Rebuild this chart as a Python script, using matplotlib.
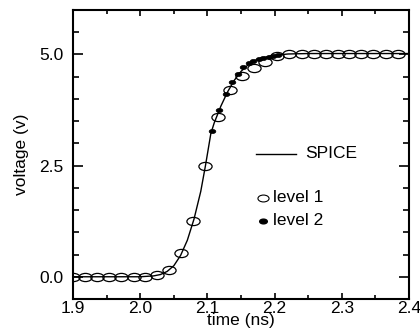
import matplotlib
matplotlib.use("Agg")
import matplotlib.pyplot as plt
import numpy as np
from matplotlib.path import Path
from matplotlib.transforms import Affine2D
from matplotlib.ticker import MultipleLocator

plt.rcParams['font.family'] = ['Liberation Sans', 'DejaVu Sans']

# SPICE waveform
spice_t = [1.90, 2.00, 2.02, 2.03, 2.04, 2.05, 2.06, 2.07, 2.08, 2.09, 2.097,
           2.105, 2.11, 2.115, 2.12, 2.13, 2.14, 2.15, 2.16, 2.17, 2.18,
           2.19, 2.20, 2.22, 2.25, 2.40]
spice_v = [0.0, 0.0, 0.02, 0.05, 0.12, 0.25, 0.48, 0.82, 1.30, 1.92, 2.50,
           3.22, 3.46, 3.65, 3.84, 4.16, 4.42, 4.62, 4.76, 4.86, 4.92,
           4.95, 4.98, 5.01, 5.02, 5.02]

# level 1 model (open circles)
lvl1_t = [1.900, 1.918, 1.936, 1.954, 1.972, 1.990, 2.007, 2.025, 2.043,
          2.061, 2.079, 2.097, 2.115, 2.133, 2.151, 2.169, 2.186, 2.204,
          2.222, 2.240, 2.258, 2.276, 2.294, 2.311, 2.329, 2.347, 2.365, 2.383]
lvl1_v = [0.0, 0.0, 0.0, 0.0, 0.0, 0.0, 0.0, 0.03, 0.15,
          0.53, 1.26, 2.50, 3.60, 4.20, 4.51, 4.70, 4.83, 4.96,
          5.02, 5.02, 5.02, 5.02, 5.02, 5.02, 5.02, 5.02, 5.02, 5.02]

# level 2 model (filled dots)
lvl2_t = [2.106, 2.117, 2.128, 2.136, 2.145, 2.153, 2.162, 2.168, 2.176,
          2.183, 2.191, 2.198, 2.205]
lvl2_v = [3.27, 3.74, 4.12, 4.37, 4.57, 4.72, 4.81, 4.86, 4.90,
          4.93, 4.95, 4.96, 4.98]

ellipse = Path.unit_circle().transformed(Affine2D().scale(1.0, 0.62))

fig = plt.figure(figsize=(4.2, 3.32), dpi=100)
ax = fig.add_axes([0.174, 0.0994, 0.8, 0.8706])

ax.plot(spice_t, spice_v, color='black', lw=1.0)
ax.plot(lvl1_t, lvl1_v, ls='none', marker=ellipse, ms=9.5, mfc='none',
        mec='black', mew=0.9)
ax.plot(lvl2_t, lvl2_v, ls='none', marker=ellipse, ms=4.8, mfc='black',
        mec='black', mew=0.5)

ax.set_xlim(1.9, 2.4)
ax.set_ylim(-0.5, 6.0)
ax.set_xticks([1.9, 2.0, 2.1, 2.2, 2.3, 2.4])
ax.set_yticks([0.0, 2.5, 5.0])
ax.xaxis.set_minor_locator(MultipleLocator(0.05))
ax.yaxis.set_minor_locator(MultipleLocator(0.5))
ax.set_xticklabels(['1.9', '2.0', '2.1', '2.2', '2.3', '2.4'])
ax.set_yticklabels(['0.0', '2.5', '5.0'])

ax.tick_params(which='both', direction='in', top=True, right=True,
               labelsize=12.5, width=1.2)
ax.tick_params(axis='x', which='major', length=4.5, pad=1.5)
ax.tick_params(axis='x', which='minor', length=3)
ax.tick_params(axis='y', which='major', length=7.5, pad=7)
ax.tick_params(axis='y', which='minor', length=4)
for s in ax.spines.values():
    s.set_linewidth(1.5)

ax.set_xlabel('time (ns)', fontsize=12.5, labelpad=-2)
ax.set_ylabel('voltage (v)', fontsize=12.5, labelpad=7)

# legend drawn by hand
ax.plot([0.545, 0.664], [0.502, 0.502], transform=ax.transAxes,
        color='black', lw=1.0)
ax.text(0.69, 0.502, 'SPICE', transform=ax.transAxes, fontsize=12.5,
        va='center', ha='left')
ax.plot([0.565], [0.35], transform=ax.transAxes, ls='none', marker=ellipse,
        ms=8, mfc='none', mec='black', mew=0.8)
ax.text(0.595, 0.35, 'level 1', transform=ax.transAxes, fontsize=12.5,
        va='center', ha='left')
ax.plot([0.565], [0.27], transform=ax.transAxes, ls='none', marker=ellipse,
        ms=5.5, mfc='black', mec='black')
ax.text(0.595, 0.27, 'level 2', transform=ax.transAxes, fontsize=12.5,
        va='center', ha='left')

fig.savefig('out.png', dpi=100)
